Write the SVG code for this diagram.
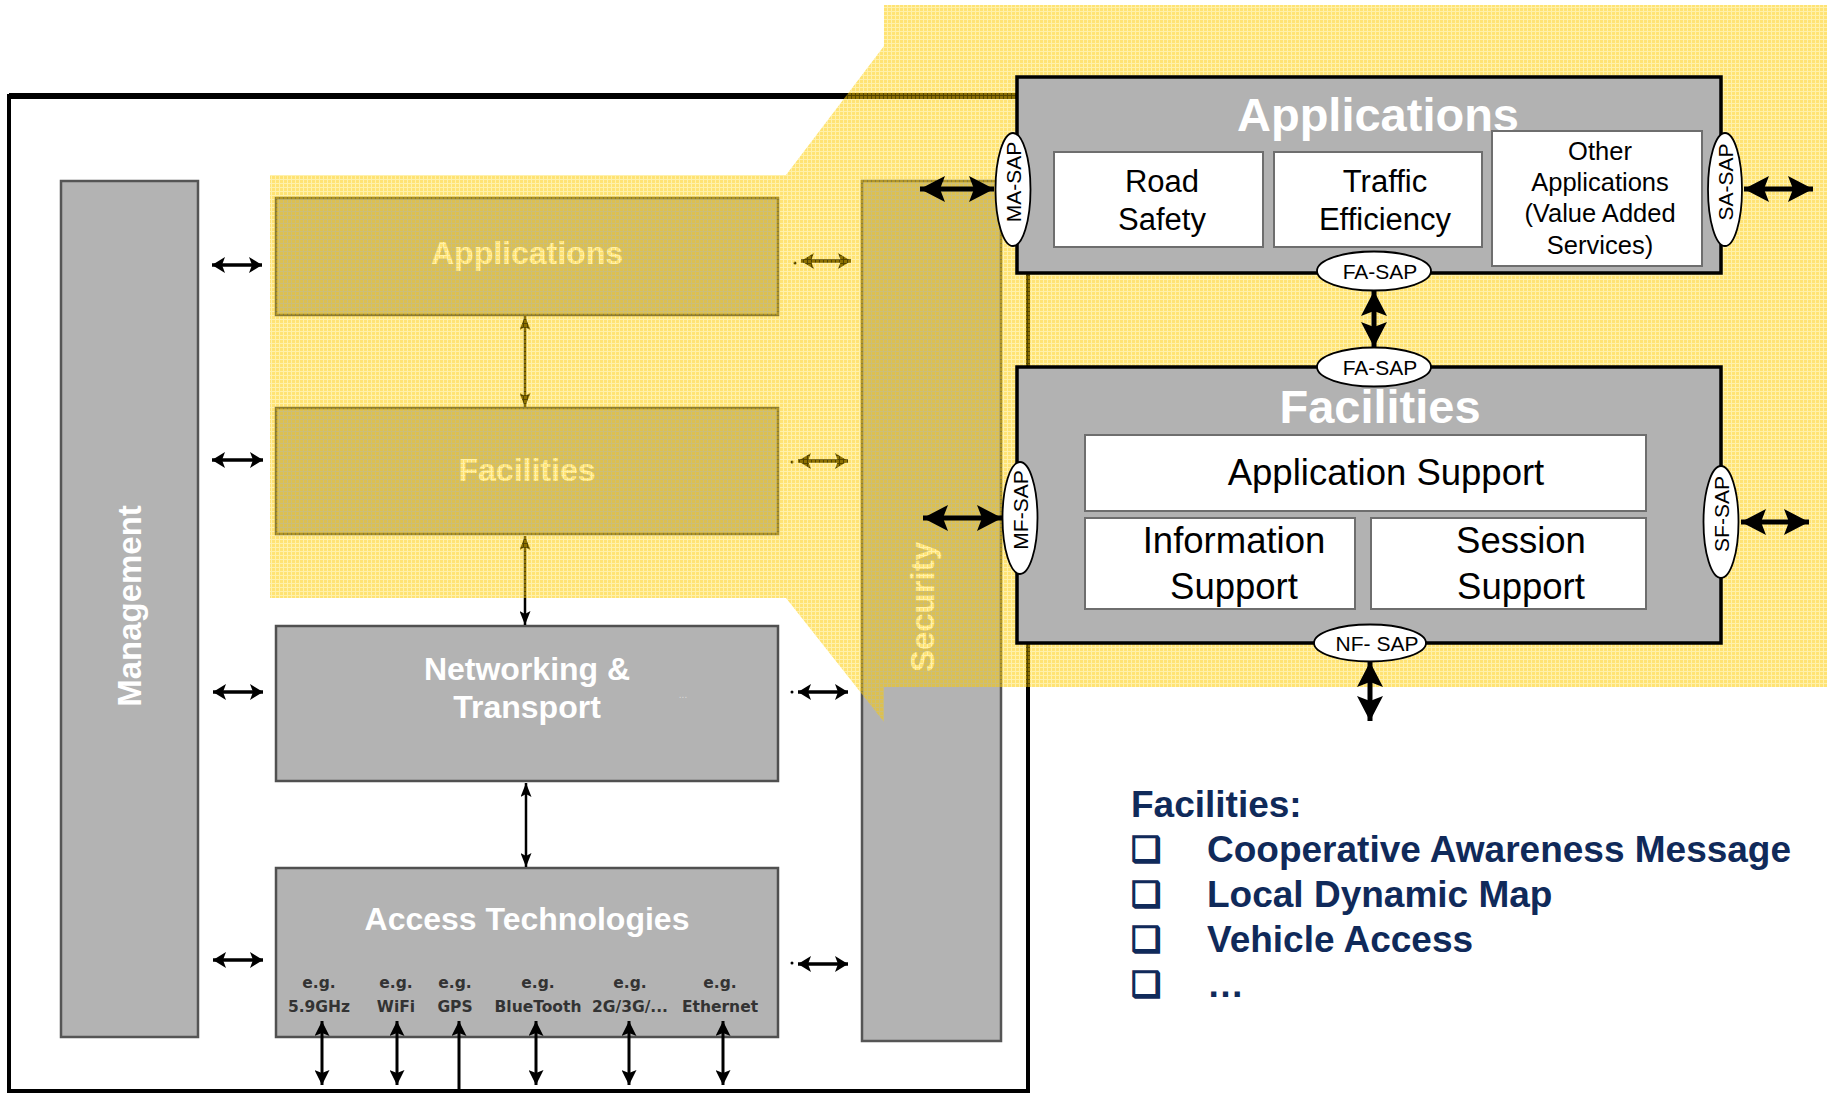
<svg xmlns="http://www.w3.org/2000/svg" width="1827" height="1094" viewBox="0 0 1827 1094">
<defs>
<style>
.bar{fill:#b3b3b3;stroke:#555;stroke-width:2.5}
.box{fill:#b3b3b3;stroke:#505050;stroke-width:2.5}
.lt{font-family:"Liberation Sans",Arial,sans-serif;font-weight:bold;font-size:32px;fill:#fff;text-anchor:middle}
.vt{font-family:"Liberation Sans",Arial,sans-serif;font-weight:bold;font-size:33px;fill:#fff;text-anchor:middle}
.eg{font-family:"DejaVu Sans",sans-serif;font-weight:bold;font-size:15.5px;fill:#333;text-anchor:middle}
.dots{font-family:"Liberation Sans",Arial,sans-serif;font-size:10px;fill:#d8d8d8;text-anchor:middle}
.big{fill:#b2b2b2;stroke:#000;stroke-width:3.5}
.sub{fill:#fff;stroke:#6e6e6e;stroke-width:2}
.rt{font-family:"Liberation Sans",Arial,sans-serif;font-weight:bold;font-size:47px;fill:#fff;text-anchor:middle}
.rs{font-family:"Liberation Sans",Arial,sans-serif;font-size:31px;fill:#000;text-anchor:middle}
.ro{font-family:"Liberation Sans",Arial,sans-serif;font-size:25.5px;fill:#000;text-anchor:middle}
.fs{font-family:"Liberation Sans",Arial,sans-serif;font-size:36.5px;fill:#000;text-anchor:middle}
.sap{fill:#fff;stroke:#000;stroke-width:1.8}
.st{font-family:"Liberation Sans",Arial,sans-serif;font-size:21px;fill:#000;text-anchor:middle}
.li{font-family:"Liberation Sans",Arial,sans-serif;font-weight:bold;font-size:37px;fill:#102a5a}
.bul{font-family:"DejaVu Sans",sans-serif;font-weight:bold;font-size:34px;fill:#102a5a;stroke:#102a5a;stroke-width:1.6}
.c{fill:none;stroke:#000}
.s3{stroke-width:3}
.s35{stroke-width:3.5}
.s25{stroke-width:2.5}
.s5{stroke-width:5}
</style>
<pattern id="yel" width="4" height="4" patternUnits="userSpaceOnUse">
<rect width="4" height="4" fill="#ffd400" fill-opacity="0.33"/>
<rect width="3" height="3" fill="#ffc800" fill-opacity="0.32"/>
</pattern>
<marker id="ah" viewBox="0 0 13 16" refX="13" refY="8" markerWidth="13" markerHeight="16" markerUnits="userSpaceOnUse" orient="auto-start-reverse"><path d="M0,0 L13,8 L0,16 L3,8 Z" fill="#000"/></marker>
<marker id="av" viewBox="0 0 14 11" refX="14" refY="5.5" markerWidth="14" markerHeight="11" markerUnits="userSpaceOnUse" orient="auto-start-reverse"><path d="M0,0 L14,5.5 L0,11 L3,5.5 Z" fill="#000"/></marker>
<marker id="ab" viewBox="0 0 15 15" refX="15" refY="7.5" markerWidth="15" markerHeight="15" markerUnits="userSpaceOnUse" orient="auto-start-reverse"><path d="M0,0 L15,7.5 L0,15 L3,7.5 Z" fill="#000"/></marker>
<marker id="ag" viewBox="0 0 25 26" refX="25" refY="13" markerWidth="25" markerHeight="26" markerUnits="userSpaceOnUse" orient="auto-start-reverse"><path d="M0,0 L25,13 L0,26 L5,13 Z" fill="#000"/></marker>
</defs>

<rect width="1827" height="1094" fill="#fff"/>

<g id="frame"><rect x="9" y="96" width="1019" height="995" fill="#fff" stroke="#000" stroke-width="4"/><line x1="9" y1="96" x2="1028" y2="96" stroke="#000" stroke-width="6"/></g>

<g id="management"><rect class="bar" x="61" y="181" width="137" height="856"/><text class="vt" transform="translate(141,606) rotate(-90)">Management</text></g>
<g id="security"><rect class="bar" x="862" y="181" width="139" height="860"/><text class="vt" transform="translate(934,607) rotate(-90)">Security</text></g>

<g id="l-applications"><rect class="box" x="276" y="198" width="502" height="117"/><text class="lt" x="527" y="264">Applications</text></g>
<g id="l-facilities"><rect class="box" x="276" y="408" width="502" height="126"/><text class="lt" x="527" y="481">Facilities</text></g>
<g id="l-networking"><rect class="box" x="276" y="626" width="502" height="155"/><text class="lt" x="527" y="680">Networking &amp;</text><text class="lt" x="527" y="718">Transport</text><text class="dots" x="683" y="698">...</text></g>
<g id="l-access"><rect class="box" x="276" y="868" width="502" height="169"/><text class="lt" x="527" y="930">Access Technologies</text>
<text class="eg" x="319" y="988">e.g.</text><text class="eg" x="319" y="1012">5.9GHz</text>
<text class="eg" x="396" y="988">e.g.</text><text class="eg" x="396" y="1012">WiFi</text>
<text class="eg" x="455" y="988">e.g.</text><text class="eg" x="455" y="1012">GPS</text>
<text class="eg" x="538" y="988">e.g.</text><text class="eg" x="538" y="1012">BlueTooth</text>
<text class="eg" x="630" y="988">e.g.</text><text class="eg" x="630" y="1012">2G/3G/...</text>
<text class="eg" x="720" y="988">e.g.</text><text class="eg" x="720" y="1012">Ethernet</text>
</g>

<g id="connectors">
<line class="c s35" x1="212" y1="265" x2="262" y2="265" marker-start="url(#ah)" marker-end="url(#ah)"/>
<line class="c s35" x1="212" y1="460" x2="263" y2="460" marker-start="url(#ah)" marker-end="url(#ah)"/>
<line class="c s35" x1="213" y1="692" x2="263" y2="692" marker-start="url(#ah)" marker-end="url(#ah)"/>
<line class="c s35" x1="213" y1="960" x2="263" y2="960" marker-start="url(#ah)" marker-end="url(#ah)"/>
<line class="c s35" x1="801" y1="261" x2="851" y2="261" marker-start="url(#ah)" marker-end="url(#ah)"/>
<line class="c s35" x1="798" y1="461" x2="848" y2="461" marker-start="url(#ah)" marker-end="url(#ah)"/>
<line class="c s35" x1="798" y1="692" x2="848" y2="692" marker-start="url(#ah)" marker-end="url(#ah)"/>
<line class="c s35" x1="798" y1="964" x2="848" y2="964" marker-start="url(#ah)" marker-end="url(#ah)"/>
<circle cx="795" cy="263" r="1.5" fill="#000"/><circle cx="792" cy="462" r="1.5" fill="#000"/><circle cx="792" cy="692" r="1.5" fill="#000"/><circle cx="792" cy="963" r="1.5" fill="#000"/>
<line class="c s25" x1="525" y1="316" x2="525" y2="407" marker-start="url(#av)" marker-end="url(#av)"/>
<line class="c s25" x1="525" y1="536" x2="525" y2="625" marker-start="url(#av)" marker-end="url(#av)"/>
<line class="c s25" x1="526" y1="783" x2="526" y2="867" marker-start="url(#av)" marker-end="url(#av)"/>
<line class="c s3" x1="322" y1="1021" x2="322" y2="1085" marker-start="url(#ab)" marker-end="url(#ab)"/>
<line class="c s3" x1="397" y1="1021" x2="397" y2="1085" marker-start="url(#ab)" marker-end="url(#ab)"/>
<line class="c s3" x1="459" y1="1021" x2="459" y2="1089" marker-start="url(#ab)"/>
<line class="c s3" x1="536" y1="1021" x2="536" y2="1085" marker-start="url(#ab)" marker-end="url(#ab)"/>
<line class="c s3" x1="629" y1="1021" x2="629" y2="1085" marker-start="url(#ab)" marker-end="url(#ab)"/>
<line class="c s3" x1="723" y1="1021" x2="723" y2="1085" marker-start="url(#ab)" marker-end="url(#ab)"/>
</g>

<path id="zoom-highlight" fill="url(#yel)" d="M270,175 L786,175 L884,46 L884,5 L1827,5 L1827,687 L884,687 L884,722 L786,598 L270,598 Z"/>

<g id="r-applications">
<rect class="big" x="1017" y="77" width="704" height="196"/>
<text class="rt" x="1378" y="131">Applications</text>
</g>
<g id="road-safety"><rect class="sub" x="1054" y="152" width="209" height="95"/><text class="rs" x="1162" y="192">Road</text><text class="rs" x="1162" y="230">Safety</text></g>
<g id="traffic-efficiency"><rect class="sub" x="1274" y="152" width="208" height="95"/><text class="rs" x="1385" y="192">Traffic</text><text class="rs" x="1385" y="230">Efficiency</text></g>
<g id="other-applications"><rect class="sub" x="1492" y="131" width="210" height="135"/><text class="ro" x="1600" y="160">Other</text><text class="ro" x="1600" y="191">Applications</text><text class="ro" x="1600" y="222">(Value Added</text><text class="ro" x="1600" y="254">Services)</text></g>

<g id="r-facilities">
<rect class="big" x="1017" y="367" width="704" height="276"/>
<text class="rt" x="1380" y="423">Facilities</text>
</g>
<g id="application-support"><rect class="sub" x="1085" y="435" width="561" height="76"/><text class="fs" x="1386" y="485">Application Support</text></g>
<g id="information-support"><rect class="sub" x="1085" y="518" width="270" height="91"/><text class="fs" x="1234" y="553">Information</text><text class="fs" x="1234" y="599">Support</text></g>
<g id="session-support"><rect class="sub" x="1371" y="518" width="275" height="91"/><text class="fs" x="1521" y="553">Session</text><text class="fs" x="1521" y="599">Support</text></g>

<g id="ma-sap"><ellipse class="sap" cx="1013" cy="189.5" rx="17.5" ry="56.5"/><text class="st" transform="translate(1020.5,182) rotate(-90)">MA-SAP</text></g>
<g id="sa-sap"><ellipse class="sap" cx="1725" cy="189.5" rx="17" ry="56.5"/><text class="st" transform="translate(1732.5,182) rotate(-90)">SA-SAP</text></g>
<g id="fa-sap-top"><ellipse class="sap" cx="1374" cy="271" rx="57" ry="19.5"/><text class="st" x="1380" y="279">FA-SAP</text></g>
<g id="fa-sap-bottom"><ellipse class="sap" cx="1374" cy="367" rx="57" ry="19.5"/><text class="st" x="1380" y="375">FA-SAP</text></g>
<g id="mf-sap"><ellipse class="sap" cx="1020" cy="518" rx="17.5" ry="56"/><text class="st" transform="translate(1027.5,510) rotate(-90)">MF-SAP</text></g>
<g id="sf-sap"><ellipse class="sap" cx="1721" cy="522" rx="17.5" ry="56"/><text class="st" transform="translate(1728.5,514) rotate(-90)">SF-SAP</text></g>
<g id="nf-sap"><ellipse class="sap" cx="1370" cy="643" rx="56" ry="18.5"/><text class="st" x="1377" y="651">NF- SAP</text></g>

<g id="connectors-detail">
<line class="c s5" x1="920" y1="189" x2="994" y2="189" marker-start="url(#ag)" marker-end="url(#ag)"/>
<line class="c s5" x1="1744" y1="189" x2="1813" y2="189" marker-start="url(#ag)" marker-end="url(#ag)"/>
<line class="c s5" x1="923" y1="518" x2="1002" y2="518" marker-start="url(#ag)" marker-end="url(#ag)"/>
<line class="c s5" x1="1741" y1="522" x2="1809" y2="522" marker-start="url(#ag)" marker-end="url(#ag)"/>
<line class="c s5" x1="1374" y1="291" x2="1374" y2="347" marker-start="url(#ag)" marker-end="url(#ag)"/>
<line class="c s5" x1="1370" y1="662" x2="1370" y2="721" marker-start="url(#ag)" marker-end="url(#ag)"/>
</g>

<g id="facilities-list">
<text class="li" x="1131" y="817">Facilities:</text>
<text class="bul" x="1131" y="861">❑</text><text class="li" x="1207" y="862">Cooperative Awareness Message</text>
<text class="bul" x="1131" y="906">❑</text><text class="li" x="1207" y="907">Local Dynamic Map</text>
<text class="bul" x="1131" y="951">❑</text><text class="li" x="1207" y="952">Vehicle Access</text>
<text class="bul" x="1131" y="996">❑</text><text class="li" x="1207" y="997">…</text>
</g>
</svg>
